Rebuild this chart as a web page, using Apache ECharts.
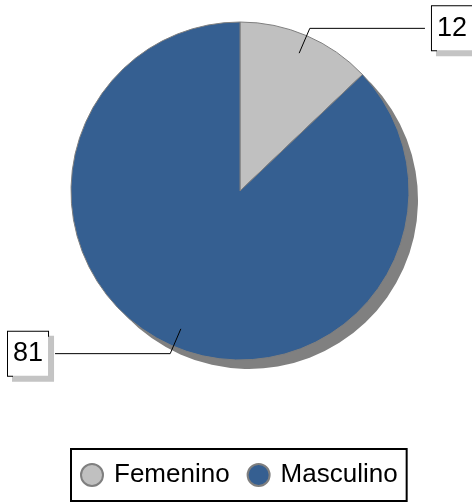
<!DOCTYPE html>
<html>
<head>
<meta charset="utf-8">
<script src="https://cdn.jsdelivr.net/npm/echarts@6/dist/echarts.min.js"></script>
<style>
html,body{margin:0;padding:0;background:#fff;}
#chart{width:472px;height:502px;}
</style>
</head>
<body>
<div id="chart"></div>
<script>
const categories = ['Femenino', 'Masculino'];
const values = [12, 81];
const colors = ['#c0c0c0', '#355f91'];

const chart = echarts.init(document.getElementById('chart'), null, {renderer: 'canvas'});
const center = [240, 191];
const R = 169;
const edgeDist = [0, 8];

const option = {
  animation: false,
  legend: {
    data: categories,
    left: 71,
    bottom: 1,
    orient: 'horizontal',
    icon: 'circle',
    itemWidth: 22,
    itemHeight: 22,
    itemGap: 17,
    padding: [13, 9, 13, 9],
    borderColor: '#000',
    borderWidth: 2,
    selectedMode: false,
    textStyle: {fontFamily: 'Liberation Sans, Arial', fontSize: 26, color: '#000', padding: [0, 0, 0, 6]}
  },
  series: [
    {
      type: 'pie', silent: true, z: 1,
      center: [center[0] + 9, center[1] + 9], radius: R,
      startAngle: 90, clockwise: true,
      label: {show: false}, labelLine: {show: false},
      itemStyle: {color: '#808080'},
      data: values.map(v => ({value: v}))
    },
    {
      type: 'pie', silent: true, z: 2,
      center: center, radius: R,
      startAngle: 90, clockwise: true,
      label: {show: false}, labelLine: {show: false},
      itemStyle: {borderColor: '#7f7f7f', borderWidth: 1},
      data: categories.map((c, i) => ({name: c, value: values[i], itemStyle: {color: colors[i]}}))
    },
    {
      type: 'pie', silent: true, z: 3,
      center: center, radius: 150,
      startAngle: 90, clockwise: true,
      itemStyle: {color: 'rgba(0,0,0,0)'},
      label: {
        show: true, position: 'outside', alignTo: 'edge',
        formatter: '{c}',
        fontFamily: 'Liberation Sans, Arial', fontSize: 27, color: '#000',
        backgroundColor: '#fff', borderColor: '#000', borderWidth: 1,
        padding: [9, 5, 8, 5],
        shadowColor: '#c4c4c4', shadowOffsetX: 5, shadowOffsetY: 5, shadowBlur: 0
      },
      labelLine: {show: true, length: 27, length2: 10, lineStyle: {color: '#000', width: 1}},
      data: values.map((v, i) => ({value: v, label: {edgeDistance: edgeDist[i]}}))
    }
  ]
};
chart.setOption(option);
</script>
</body>
</html>
